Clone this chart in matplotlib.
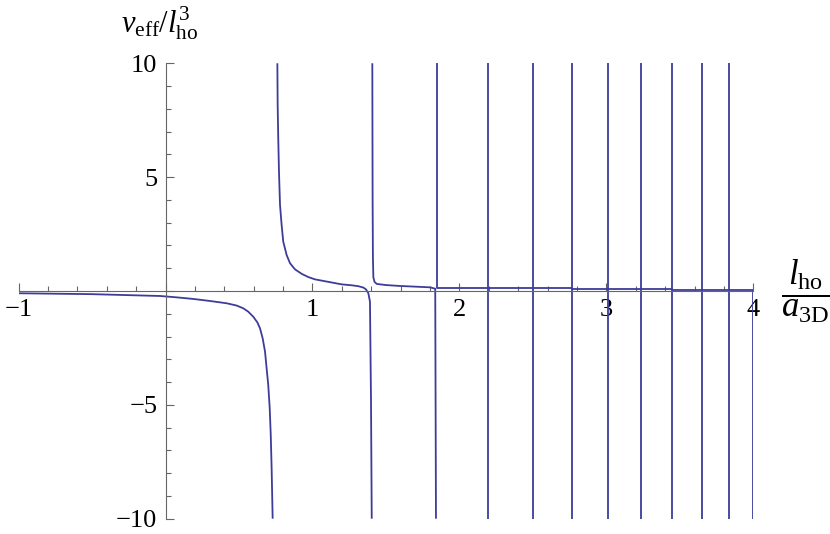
import matplotlib
matplotlib.use("Agg")
import matplotlib.pyplot as plt

# values
# branch 1: left of the first pole
b1_x = [-1.0, -0.5, -0.037, 0.076, 0.189, 0.303, 0.416, 0.484, 0.529, 0.563, 0.597,
        0.625, 0.643, 0.661, 0.677, 0.688, 0.699, 0.709, 0.716, 0.722, 0.729]
b1_y = [-0.10, -0.14, -0.22, -0.28, -0.35, -0.44, -0.54, -0.64, -0.76, -0.91, -1.13,
        -1.38, -1.64, -2.08, -2.66, -3.40, -4.13, -5.15, -6.32, -7.79, -10.0]

# branch 2: between first and second pole
b2_x = [0.761, 0.763, 0.767, 0.772, 0.779, 0.790, 0.801, 0.824, 0.847, 0.881, 0.927,
        0.972, 1.017, 1.108, 1.199, 1.267, 1.312, 1.346, 1.364, 1.380, 1.391, 1.398, 1.403]
b2_y = [10.0, 8.17, 6.71, 5.24, 3.78, 2.90, 2.17, 1.58, 1.22, 0.95, 0.75,
        0.61, 0.51, 0.40, 0.29, 0.25, 0.21, 0.15, 0.07, -0.10, -0.47, -4.8, -10.0]

# branch 3: between second and third pole
b3_x = [1.407, 1.409, 1.411, 1.414, 1.422, 1.437, 1.50, 1.595, 1.70, 1.80, 1.835, 1.840]
b3_y = [10.0, 4.0, 1.5, 0.60, 0.40, 0.31, 0.26, 0.22, 0.19, 0.16, 0.10, -10.0]

# the narrow branches further right: pole positions and plateau level
poles = [1.845, 2.192, 2.498, 2.765, 3.008, 3.233, 3.448, 3.648, 3.835, 3.998]
plateau = [0.15, 0.13, 0.11, 0.09, 0.08, 0.07, 0.06, 0.05, 0.04]

x_ticks = [-1, 0, 1, 2, 3, 4]
x_labels = ["\u22121", "", "1", "2", "3", "4"]
y_ticks = [-10, -5, 0, 5, 10]
y_labels = ["\u221210", "\u22125", "", "5", "10"]

line_color = "#3d3d99"
axis_color = "#666666"

plt.rcParams["font.family"] = ["Liberation Serif", "DejaVu Serif"]
plt.rcParams["mathtext.fontset"] = "custom"
plt.rcParams["mathtext.rm"] = "Liberation Serif"
plt.rcParams["mathtext.it"] = "Liberation Serif:italic"

fig = plt.figure(figsize=(8.3, 5.34), dpi=100)
ax = fig.add_axes([0.0223, 0.0287, 0.8855, 0.8528])

kw = dict(color=line_color, lw=1.3, solid_capstyle="butt", solid_joinstyle="round")
ax.plot(b1_x, b1_y, **kw)
ax.plot(b2_x, b2_y, **kw)
ax.plot(b3_x, b3_y, **kw)
for i in range(len(plateau)):
    ax.plot([poles[i], poles[i], poles[i + 1], poles[i + 1]],
            [10, plateau[i], plateau[i], -10], **kw)

ax.set_xlim(-1, 4)
ax.set_ylim(-10, 10)

for s in ["top", "right"]:
    ax.spines[s].set_visible(False)
ax.spines["left"].set_position(("data", 0))
ax.spines["bottom"].set_position(("data", 0))
for s in ["left", "bottom"]:
    ax.spines[s].set_color(axis_color)
    ax.spines[s].set_linewidth(0.8)

ax.set_xticks(x_ticks)
ax.set_xticklabels(x_labels)
ax.set_xticks([v / 5 for v in range(-5, 21)], minor=True)
ax.set_yticks(y_ticks)
ax.set_yticklabels(y_labels)
ax.set_yticks(range(-10, 11), minor=True)

ax.tick_params(which="both", direction="in", color=axis_color, width=0.8, labelsize=19)
ax.tick_params(which="major", length=5.5)
ax.tick_params(which="minor", length=3.6)
ax.tick_params(axis="x", pad=6)
ax.tick_params(axis="y", pad=6)

fig.text(160 / 830, 1 - 33 / 534, r"$v_{\mathrm{eff}}/l_{\mathrm{ho}}^{3}$",
         ha="center", va="baseline", fontsize=22)
fig.text(806 / 830, 1 - 291 / 534, r"$\dfrac{l_{\mathrm{ho}}}{a_{\mathrm{3D}}}$",
         ha="center", va="center", fontsize=25)

fig.savefig("out.png", dpi=100)
